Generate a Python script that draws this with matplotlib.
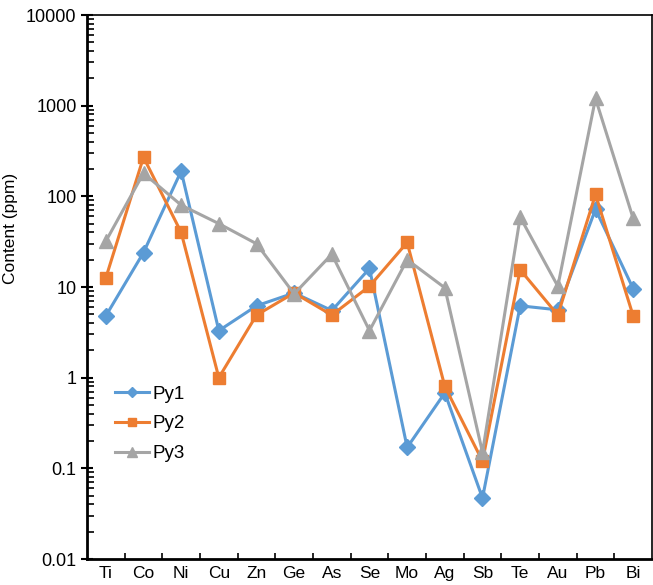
import matplotlib.pyplot as plt
from matplotlib.ticker import LogLocator, FixedLocator, NullFormatter

plt.rcParams['font.family'] = ['Liberation Sans', 'DejaVu Sans']

elements = ["Ti", "Co", "Ni", "Cu", "Zn", "Ge", "As", "Se", "Mo", "Ag", "Sb", "Te", "Au", "Pb", "Bi"]
py1 = [4.8, 24, 190, 3.3, 6.2, 8.6, 5.5, 16, 0.17, 0.68, 0.047, 6.2, 5.6, 72, 9.6]
py2 = [12.6, 270, 40, 1.0, 4.9, 8.6, 4.9, 10.2, 31, 0.8, 0.12, 15.5, 4.9, 105, 4.8]
py3 = [32, 180, 80, 50, 30, 8.4, 23, 3.3, 20, 9.8, 0.15, 59, 10.2, 1200, 57]

fig = plt.figure(figsize=(6.53, 5.85), dpi=100)
ax = fig.add_axes([87 / 653, 26 / 585, 565 / 653, 544 / 585])

x = range(len(elements))
ax.plot(x, py1, color="#5B9BD5", marker="D", markersize=8, linewidth=2.2, label="Py1")
ax.plot(x, py2, color="#ED7D31", marker="s", markersize=9, linewidth=2.2, label="Py2")
ax.plot(x, py3, color="#A5A5A5", marker="^", markersize=10, linewidth=2.2, label="Py3")

ax.set_yscale("log")
ax.set_ylim(0.01, 10000)
ax.set_xlim(-0.5, len(elements) - 0.5)
ax.yaxis.set_minor_locator(LogLocator(base=10, subs=range(2, 10)))
ax.yaxis.set_minor_formatter(NullFormatter())
ax.set_yticks([0.01, 0.1, 1, 10, 100, 1000, 10000])
ax.set_yticklabels(["0.01", "0.1", "1", "10", "100", "1000", "10000"])

ax.set_xticks(list(x))
ax.set_xticklabels(elements)
ax.xaxis.set_minor_locator(FixedLocator([i + 0.5 for i in range(len(elements) - 1)]))
ax.tick_params(axis="x", which="major", length=0, labelsize=12.5, pad=5)
ax.tick_params(axis="x", which="minor", direction="in", length=4, width=1.2)
ax.tick_params(axis="y", which="major", direction="inout", length=8, width=1.5, labelsize=13)
ax.tick_params(axis="y", which="minor", direction="in", length=5, width=1.2)

for side in ["left", "bottom"]:
    ax.spines[side].set_linewidth(2)
for side in ["top", "right"]:
    ax.spines[side].set_linewidth(1.2)

ax.set_ylabel("Content (ppm)", fontsize=12.5)
ax.yaxis.set_label_coords(-0.122, 0.608)

ax.legend(loc="upper left", bbox_to_anchor=(0.02, 0.35), frameon=False, fontsize=13.5,
          handlelength=1.8, handletextpad=0.2, labelspacing=0.68, markerscale=0.7)

fig.savefig("out.png", dpi=100)
